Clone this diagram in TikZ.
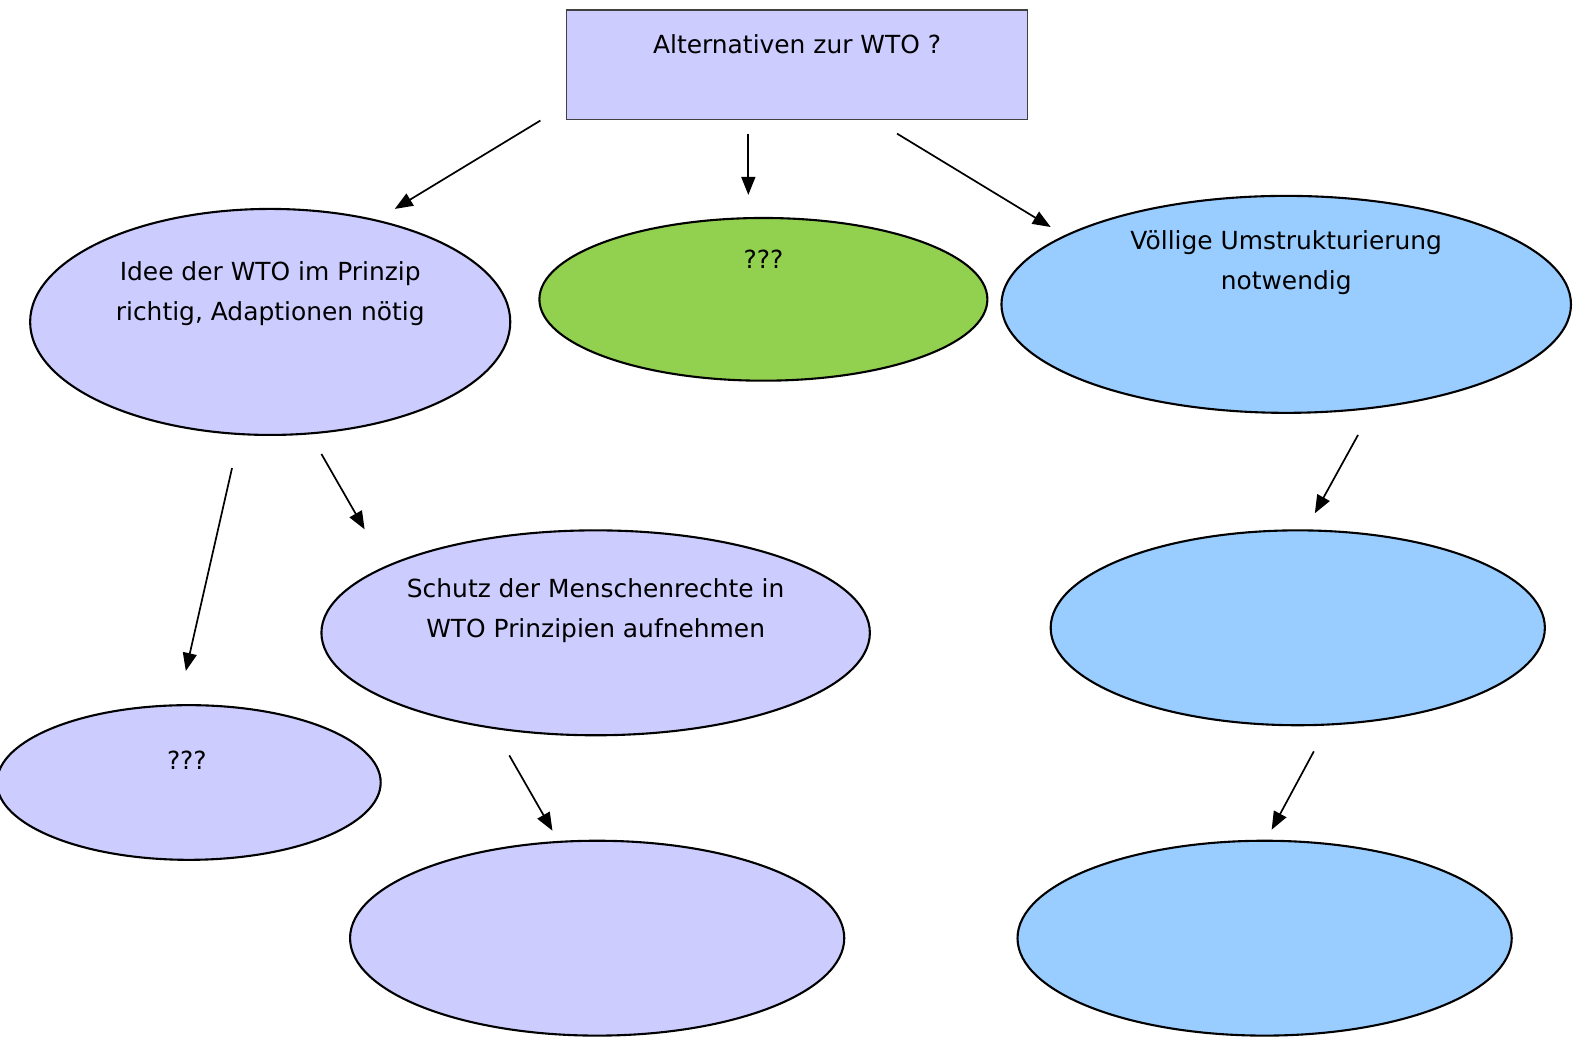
\documentclass[tikz,border=0pt]{standalone}
\usepackage{fontspec}
\setmainfont{DejaVu Sans}
\usetikzlibrary{shapes.geometric,arrows.meta}
\definecolor{lav}{HTML}{CCCCFF}
\definecolor{grn}{HTML}{92D050}
\definecolor{blu}{HTML}{99CCFF}
\def\sk{1.0045}
\tikzset{
  oval/.style={ellipse,draw=black,line width=2.1bp,inner sep=0pt,outer sep=0pt},
  sz/.style n args={2}{minimum width=\sk*#1 bp,minimum height=\sk*#2 bp},
  lbl/.style={font=\fontsize{25}{40}\selectfont,align=center,inner sep=0pt,text=black},
  arr/.style={line width=1.7bp,-{Triangle[length=18bp,width=14bp]}}
}
\begin{document}
\begin{tikzpicture}[x=\sk bp,y=-\sk bp]
\useasboundingbox (0,0) rectangle (1568,1033.35);
\fill[white] (0,0) rectangle (1568,1033.35);
% top box
\node[draw=black!75,line width=1.4bp,fill=lav,sz={459}{109},inner sep=0pt] (top) at (793.5,64.5) {};
\node[lbl] (toptxt) at (793.5,44) {Alternativen zur WTO ?};
% ellipses
\node[oval,fill=lav,sz={478}{225}] (idee) at (269,320.5) {};
\node[lbl] (ideetxt) at (269,292.5) {Idee der WTO im Prinzip\\richtig, Adaptionen nötig};
\node[oval,fill=grn,sz={446}{162}] (mid) at (760,298) {};
\node[lbl] (midtxt) at (760,258) {???};
\node[oval,fill=blu,sz={567}{216}] (voell) at (1280.5,303) {};
\node[lbl] (voelltxt) at (1280.5,261.5) {Völlige Umstrukturierung\\notwendig};
\node[oval,fill=lav,sz={546}{204}] (schutz) at (593,630) {};
\node[lbl] (schutztxt) at (593,607.5) {Schutz der Menschenrechte in\\WTO Prinzipien aufnehmen};
\node[oval,fill=lav,sz={382}{154}] (qq) at (188,779) {};
\node[lbl] (qqtxt) at (186,757) {???};
\node[oval,fill=lav,sz={492}{194}] (lbot) at (594.5,934) {};
\node[oval,fill=blu,sz={492}{194}] (rmid) at (1292,625) {};
\node[oval,fill=blu,sz={492}{194}] (rbot) at (1259,934) {};
% arrow endpoints
\coordinate (a1s) at (538,120); \coordinate (a1e) at (393,208);
\coordinate (a2s) at (745,133); \coordinate (a2e) at (745,194);
\coordinate (a3s) at (893,133); \coordinate (a3e) at (1046,226);
\coordinate (a4s) at (231,466); \coordinate (a4e) at (185,668);
\coordinate (a5s) at (320,452); \coordinate (a5e) at (363,527);
\coordinate (a6s) at (1352,433); \coordinate (a6e) at (1309,511);
\coordinate (a7s) at (507,752); \coordinate (a7e) at (550,827);
\coordinate (a8s) at (1308,748); \coordinate (a8e) at (1266,826);
\foreach \i in {1,...,8} \draw[arr] (a\i s) -- (a\i e);
\end{tikzpicture}
\end{document}
